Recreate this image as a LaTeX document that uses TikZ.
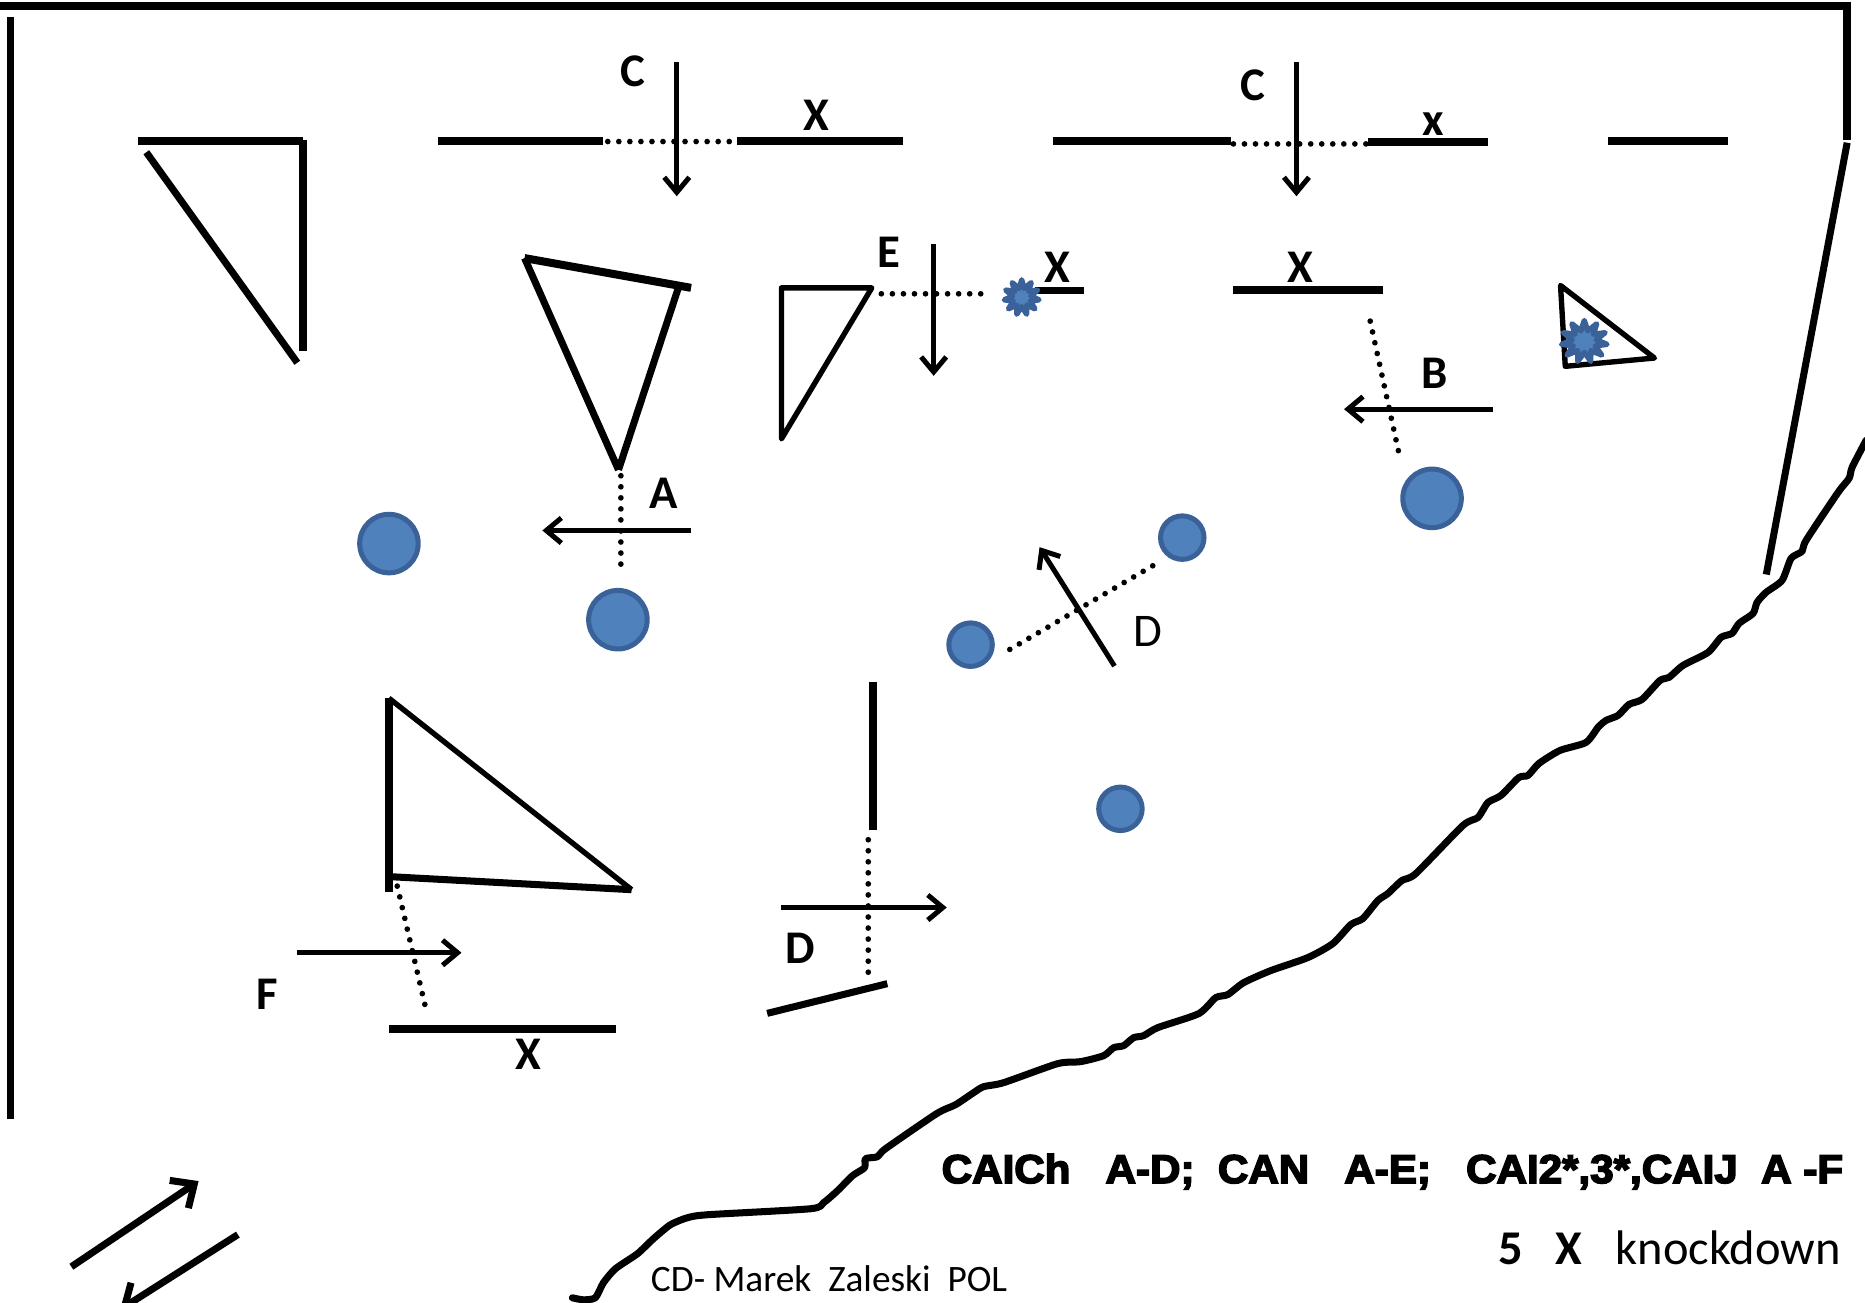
\documentclass[tikz,border=0pt]{standalone}
\usepackage{fontspec}
\setmainfont{Carlito}
\newfontfamily\blackfont[FakeBold=4,FakeStretch=1.05]{Liberation Sans Bold}
\usetikzlibrary{arrows.meta,shapes.geometric}
\definecolor{dotblue}{HTML}{4F81BD}
\definecolor{dotedge}{HTML}{3A6298}
\tikzset{
  x=0.025cm,y=-0.025cm,
  heavy/.style={line width=4.8pt,black},
  wall/.style={line width=4.2pt,black},
  thin line/.style={line width=3.2pt,black,line join=round},
  dotline/.style={line width=3.4pt,line cap=round,dash pattern=on 0pt off 6.6pt},
  arrowline/.style={line width=3pt,-{Straight Barb[length=9pt,width=15pt,line width=3pt]}},
  bigarrow/.style={line width=4.2pt,-{Straight Barb[length=11pt,width=20pt,line width=4.2pt]}},
  bigball/.style={circle,fill=dotblue,draw=dotedge,line width=3pt,minimum size=35pt,inner sep=0pt},
  smallball/.style={circle,fill=dotblue,draw=dotedge,line width=3pt,minimum size=26pt,inner sep=0pt},
  burst/.style={star,star points=11,star point ratio=1.9,fill=dotblue,draw=dotedge,line width=3.2pt,line join=round,minimum size=21pt,inner sep=0pt},
  lab/.style={font=\fontsize{28}{30}\selectfont\bfseries,inner sep=0pt},
  plainlab/.style={font=\fontsize{28}{30}\selectfont,inner sep=0pt},
}
\begin{document}
\begin{tikzpicture}
\useasboundingbox (0,0) rectangle (1568,1095.5);
% border
\draw[heavy,line join=miter] (0,5) -- (1553,5) -- (1553,118);
\draw[wall] (1553,120) -- (1485,483);
\draw[wall] (9,14) -- (9,941);
% river, traced in full-size pixels
\begin{scope}[x=0.02102cm,y=-0.02102cm]
\draw[wall,line join=round,line cap=round] plot[smooth,tension=0.4] coordinates {
(1865,440) (1851,467) (1848,478) (1837,492) (1805,540) (1801,551) (1790,558) (1781,580)
(1765,592) (1756,602) (1752,613) (1738,623) (1731,633) (1720,637) (1707,652) (1682,665)
(1668,677) (1659,680) (1641,699) (1628,704) (1617,715) (1605,720) (1597,727) (1585,742)
(1559,750) (1538,763) (1527,775) (1518,777) (1500,795) (1487,802) (1477,817) (1462,825)
(1415,873) (1401,880) (1387,893) (1377,900) (1362,918) (1350,924) (1332,943) (1307,957)
(1270,970) (1243,982) (1227,994) (1215,997) (1198,1013) (1157,1027) (1143,1035) (1133,1037)
(1123,1045) (1113,1047) (1103,1055) (1080,1061) (1057,1063) (1003,1082) (983,1086) (973,1092)
(955,1104) (936,1113) (885,1148) (877,1156) (865,1158) (864,1167) (852,1175) (837,1190)
(823,1202) (810,1208) (707,1214) (687,1217) (670,1224) (653,1238) (637,1253) (615,1268)
(603,1282) (595,1297) (583,1299) (572,1297)};
\end{scope}
% top row
\draw[heavy] (116,118.5) -- (255,118.5);
\draw[heavy] (255,118) -- (255,295);
\draw[wall] (123,128) -- (250,305);
\draw[heavy] (368,118.5) -- (507,118.5);
\draw[heavy] (620,118.5) -- (759,118.5);
\draw[heavy] (885,118.5) -- (1035,118.5);
\draw[heavy] (1150,119) -- (1251,119);
\draw[heavy] (1352,118.5) -- (1453,118.5);
\draw[dotline] (511,119) -- (620,119);
\draw[dotline] (1037,121) -- (1150,121);
\draw[arrowline] (569,52) -- (569,165);
\draw[arrowline] (1090,52) -- (1090,165);
\node[lab] (c1) at (532,60) {C};
\node[lab] (x1) at (686,97) {X};
\node[lab] (c2) at (1053,72) {C};
\node[lab] (x2) at (1205,104) {x};
% triangle A
\draw[heavy] (441,217) -- (581,242);
\draw[wall] (441,217) -- (520,395);
\draw[wall] (570,243) -- (520,395);
\draw[dotline] (522,400) -- (522,478);
\draw[arrowline] (581,446) -- (456,446);
\node[lab] (a) at (558,415) {A};
% triangle E
\draw[thin line] (657,242) -- (733,242) -- (657,369) -- cycle;
\draw[dotline] (741,247) -- (829,247);
\draw[arrowline] (785,205) -- (785,316);
\node[lab] (e) at (747,212) {E};
\draw[wall] (870,244) -- (911,244);
\node[lab] (x3) at (889,225) {X};
\node[burst] (b1) at (859,250) {};
% X + B
\draw[heavy] (1037,244) -- (1163,244);
\node[lab] (x4) at (1093,225) {X};
\draw[dotline] (1152,270) -- (1177,385);
\draw[arrowline] (1255,344) -- (1130,344);
\node[lab] (b) at (1206,314) {B};
% small triangle
\draw[thin line] (1312,240) -- (1391,301) -- (1316,308) -- cycle;
\node[burst,minimum size=25pt,xscale=1.1] (b2) at (1332,287) {};
% balls
\node[bigball] (p1) at (327,457) {};
\node[bigball] (p2) at (519.5,521) {};
\node[bigball] (p3) at (1204,419) {};
\node[smallball] (p4) at (994,452) {};
\node[smallball] (p5) at (816,542) {};
\node[smallball] (p6) at (942,680) {};
% D upper
\draw[dotline] (849,546) -- (972,474);
\draw[arrowline] (937,560) -- (874,460);
\node[plainlab] (d1) at (965,531) {D};
% lower left triangle
\draw[thin line] (327,587) -- (531,748);
\draw[heavy] (327,587) -- (327,750);
\draw[wall] (327,737) -- (531,748);
\draw[dotline] (334,745) -- (358,848);
\draw[arrowline] (250,801) -- (388,801);
\node[lab] (f) at (225,836) {F};
\draw[heavy] (327,865) -- (518,865);
\node[lab] (x5) at (444,886) {X};
% D lower
\draw[heavy] (734,573) -- (734,698);
\draw[dotline] (730,706) -- (730,825);
\draw[arrowline] (657,763) -- (796,763);
\node[lab] (d2) at (673,797) {D};
\draw[wall] (645,852) -- (746,827);
% direction arrows
\draw[bigarrow] (60,1065) -- (167,993);
\draw[bigarrow] (200,1038) -- (101,1101);
% texts
\node[anchor=east,inner sep=0pt,font=\blackfont\fontsize{24}{26}\selectfont] (t1) at (1550,985)
  {CAICh\ \ \ A-D;\ \ CAN\ \ \ A-E;\ \ \ CAI2*,3*,CAIJ\ \ A -F};
\node[anchor=east,inner sep=0pt,font=\fontsize{29}{32}\selectfont] (t2) at (1548,1049)
  {\textbf{5\ \ \ X}\ \ \ knockdown};
\node[anchor=west,inner sep=0pt,font=\fontsize{22.3}{26}\selectfont] (t3) at (547,1075)
  {CD- Marek\ \ Zaleski\ \ POL};
\end{tikzpicture}
\end{document}
